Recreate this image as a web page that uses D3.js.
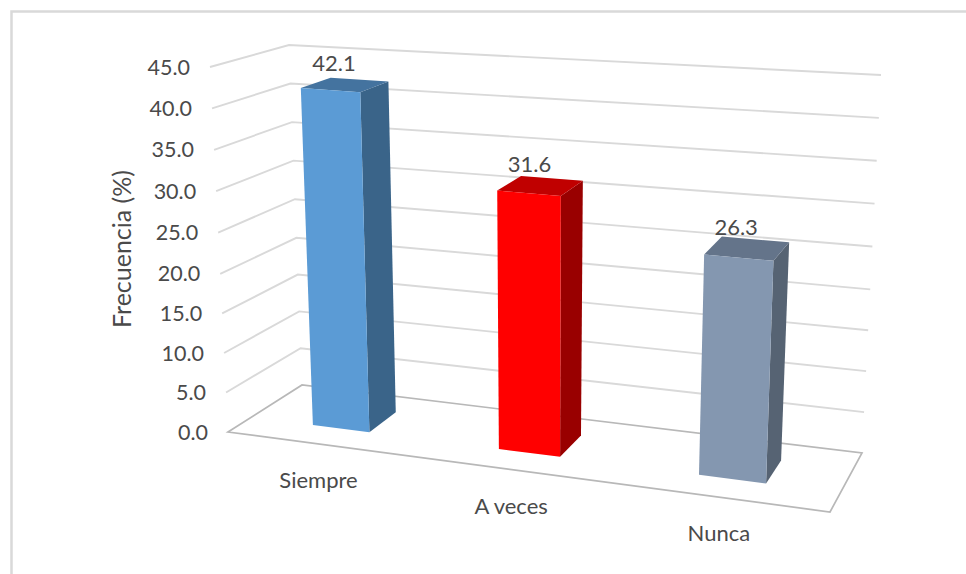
<!DOCTYPE html>
<html><head><meta charset="utf-8">
<script src="https://cdnjs.cloudflare.com/ajax/libs/d3/7.8.5/d3.min.js"></script>
<style>html,body{margin:0;padding:0;background:#fff}svg{display:block}text{font-family:Lato,"Open Sans",sans-serif;fill:#4a4a4a}</style>
</head><body><svg id="c" width="966" height="574"></svg>
<script>
const categories = ["Siempre", "A veces", "Nunca"];
const values = [42.1, 31.6, 26.3];
const ticks = [0, 5, 10, 15, 20, 25, 30, 35, 40, 45];
const frontColors = ["#5B9BD5", "#FF0000", "#8497B0"];
const sideColors = ["#3A6489", "#990000", "#566373"];
const topColors = ["#44739F", "#C00000", "#64748A"];
const axisTitle = "Frecuencia (%)";

const svg = d3.select("#c");

// Oblique box of the 3D chart: u runs along categories, d runs into depth, v is the value
const hScale = d3.scaleLinear().domain([0, 20, 45]).range([0, 0.433, 1]);
const cat = d3.scaleLinear().domain([0, 1, 2]).range([0.152, 0.472, 0.817]);
const catWidth = d3.scaleLinear().domain([0, 1, 2]).range([0.096, 0.104, 0.114]);
const floor = {fl:[228,432], bl:[302,385], br:[862,453], fr:[830,512]};
const roof = {fl:[210,67], bl:[289,45], br:[881,75], fr:[846,115]};
const bilerp = (q,u,d,i) => {
  const a = d3.interpolateNumber(q.fl[i], q.fr[i])(u);
  const b = d3.interpolateNumber(q.bl[i], q.br[i])(u);
  return d3.interpolateNumber(a,b)(d);
};
const project = (u,d,v) => {
  const t = hScale(v);
  return [0,1].map(i => d3.interpolateNumber(bilerp(floor,u,d,i), bilerp(roof,u,d,i))(t));
};
const line = d3.line();

// frame
svg.append("path").attr("d","M11.5,574V11.5H966").attr("fill","none").attr("stroke","#d9d9d9").attr("stroke-width",2.5);

// gridlines on the walls
svg.append("g").selectAll("path").data(ticks.filter(v => v > 0)).join("path")
  .attr("d", v => line([project(0,0,v), project(0,1,v), project(1,1,v)]))
  .attr("fill","none").attr("stroke","#d9d9d9").attr("stroke-width",1.9);

// floor
svg.append("path")
  .attr("d", line([project(0,0,0), project(0,1,0), project(1,1,0), project(1,0,0)]) + "Z")
  .attr("fill","#fff").attr("stroke","#b8b8b8").attr("stroke-width",1.7).attr("stroke-linejoin","miter");

// bars
const d0 = 0.32, d1 = 0.722;
const bars = svg.append("g").selectAll("g").data(values).join("g");
bars.each(function(v,i){
  const g = d3.select(this);
  const u0 = cat(i) - catWidth(i)/2, u1 = cat(i) + catWidth(i)/2;
  g.append("path").attr("fill", sideColors[i])
    .attr("d", line([project(u1,d0,0), project(u1,d1,0), project(u1,d1,v), project(u1,d0,v)]) + "Z");
  g.append("path").attr("fill", topColors[i])
    .attr("d", line([project(u0,d0,v), project(u0,d1,v), project(u1,d1,v), project(u1,d0,v)]) + "Z");
  g.append("path").attr("fill", frontColors[i])
    .attr("d", line([project(u0,d0,0), project(u1,d0,0), project(u1,d0,v), project(u0,d0,v)]) + "Z");
  const p = project(cat(i),(d0+d1)/2,v);
  g.append("text").attr("x",p[0]-11).attr("y",p[1]-14).attr("text-anchor","middle")
    .attr("font-size",22).text(v.toFixed(1));
});

// value axis labels
svg.append("g").selectAll("text").data(ticks).join("text")
  .attr("x", v => project(0,0,v)[0]-20)
  .attr("y", v => project(0,0,v)[1])
  .attr("dy","0.35em").attr("text-anchor","end").attr("font-size",21.5)
  .text(v => v.toFixed(1));

// category labels
svg.append("g").selectAll("text").data(categories).join("text")
  .attr("x", (c,i) => project(cat(i),0,0)[0]-1)
  .attr("y", (c,i) => project(cat(i),0,0)[1]+44)
  .attr("text-anchor","middle").attr("font-size",22).text(c => c);

// axis title
svg.append("text").attr("transform","translate(131,249) rotate(-90)")
  .attr("text-anchor","middle").attr("font-size",25).text(axisTitle);
</script></body></html>
